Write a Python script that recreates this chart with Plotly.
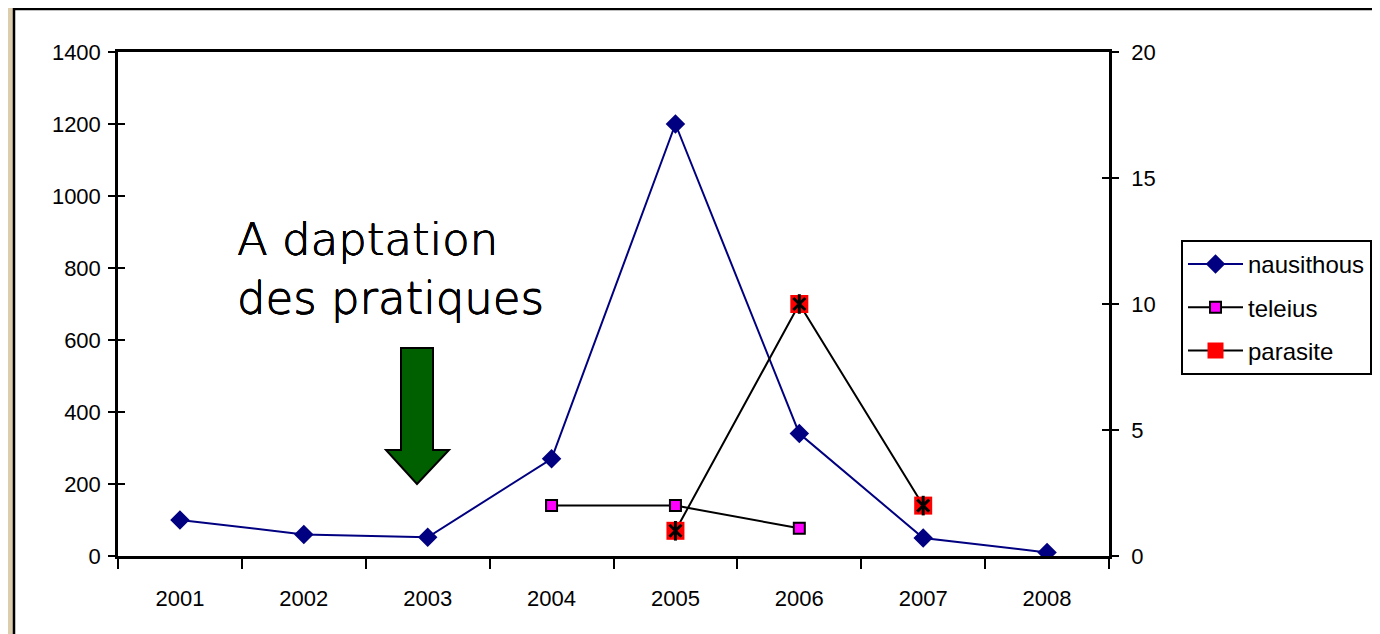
import plotly.graph_objects as go

years = ["2001", "2002", "2003", "2004", "2005", "2006", "2007", "2008"]
nausithous = [100, 60, 52, 270, 1200, 340, 50, 10]
teleius_years = ["2004", "2005", "2006"]
teleius = [2, 2, 1.1]
parasite_years = ["2005", "2006", "2007"]
parasite = [1, 10, 2]

W, H = 1380, 634
OX, OY = 7, 8  # page offset of the figure in the screenshot
L, R, T, B = 117 - OX, 1108 - OX, 52 - OY, 556 - OY


def px(x):
    return (x - OX - L) / (R - L)


def py(y):
    return (B - (y - OY)) / (B - T)


fig = go.Figure()
fig.add_trace(go.Scatter(
    x=years, y=nausithous, name="nausithous", mode="lines+markers",
    line=dict(color="#000080", width=2),
    marker=dict(symbol="diamond", size=15, color="#000080"),
    legendgroup="a"))
fig.add_trace(go.Scatter(
    x=teleius_years, y=teleius, name="teleius", mode="lines+markers", yaxis="y2",
    line=dict(color="black", width=2),
    marker=dict(symbol="square", size=11, color="#ff00ff", line=dict(color="black", width=2)),
    legendgroup="b"))
fig.add_trace(go.Scatter(
    x=parasite_years, y=parasite, name="parasite", mode="lines+markers", yaxis="y2",
    line=dict(color="black", width=2),
    marker=dict(symbol="square", size=18, color="#ff0000"),
    legendgroup="c"))
fig.add_trace(go.Scatter(
    x=parasite_years, y=parasite, mode="markers", yaxis="y2", showlegend=False,
    marker=dict(symbol="x-thin-open", size=12, color="black", line=dict(color="black", width=3)),
    legendgroup="c", hoverinfo="skip"))
fig.add_trace(go.Scatter(
    x=parasite_years, y=parasite, mode="markers", yaxis="y2", showlegend=False,
    marker=dict(symbol="line-ns-open", size=14, color="black", line=dict(color="black", width=3)),
    legendgroup="c", hoverinfo="skip"))

tickfont = dict(family="Liberation Sans, Arial, sans-serif", size=22, color="black")

fig.update_layout(
    width=W, height=H,
    margin=dict(l=L, r=W - R, t=T, b=H - B, pad=0),
    paper_bgcolor="#dccdae",
    plot_bgcolor="white",
    showlegend=True,
    xaxis=dict(
        type="category", categoryorder="array", categoryarray=years,
        range=[-0.5, 7.5], tickson="boundaries", ticks="outside", ticklen=10,
        tickwidth=2, tickcolor="black", showline=True, linecolor="black", linewidth=2.5,
        mirror=True, showgrid=False, zeroline=False, tickfont=tickfont,
        ticklabelstandoff=21),
    yaxis=dict(
        range=[0, 1400], dtick=200, ticks="outside", ticklen=7, tickwidth=2,
        tickcolor="black", showline=True, linecolor="black", linewidth=2.5,
        showgrid=False, zeroline=False, tickfont=tickfont, ticklabelstandoff=3),
    yaxis2=dict(
        range=[0, 20], dtick=5, overlaying="y", side="right", ticks="outside",
        ticklen=7, tickwidth=2, tickcolor="black", showline=True, linecolor="black",
        linewidth=2.5, showgrid=False, zeroline=False, tickfont=tickfont,
        ticklabelstandoff=8),
    yaxis3=dict(
        range=[0, 1400], dtick=200, overlaying="y", side="left", ticks="inside",
        ticklen=7, tickwidth=2, tickcolor="black", showticklabels=False,
        showgrid=False, zeroline=False, showline=False),
    yaxis4=dict(
        range=[0, 20], dtick=5, overlaying="y", side="right", ticks="inside",
        ticklen=7, tickwidth=2, tickcolor="black", showticklabels=False,
        showgrid=False, zeroline=False, showline=False),
    legend=dict(
        x=px(1180), y=py(240), xanchor="left", yanchor="top",
        bgcolor="white", bordercolor="black", borderwidth=2,
        font=dict(family="Liberation Sans, Arial, sans-serif", size=24, color="black"),
        itemwidth=55, tracegroupgap=9, traceorder="grouped"),
)

# white chart area with black border
fig.add_shape(type="rect", xref="paper", yref="paper",
              x0=px(13), x1=px(1420), y0=py(680), y1=py(9),
              fillcolor="white", line=dict(color="black", width=2.5), layer="below")

# green arrow
pts = [(400, 348), (432, 348), (432, 450), (448, 450), (416, 484), (385, 450), (400, 450)]
path = "M " + " L ".join(f"{px(a):.5f},{py(b):.5f}" for a, b in pts) + " Z"
fig.add_shape(type="path", xref="paper", yref="paper", path=path,
              fillcolor="#006000", line=dict(color="black", width=2), layer="above")

fig.add_annotation(
    xref="paper", yref="paper", x=px(234), y=py(211), xanchor="left", yanchor="top",
    text="A daptation<br>des pratiques", showarrow=False, align="left",
    font=dict(family="DejaVu Sans, sans-serif", size=45, color="black", weight=200,
              shadow="0.35px 0 0 black, -0.35px 0 0 black, 0 0.35px 0 black, 0 -0.35px 0 black"))

# hidden traces for extra tick axes
fig.add_trace(go.Scatter(x=[None], y=[None], yaxis="y3", showlegend=False, hoverinfo="skip"))
fig.add_trace(go.Scatter(x=[None], y=[None], yaxis="y4", showlegend=False, hoverinfo="skip"))

fig.write_html("out.html")
